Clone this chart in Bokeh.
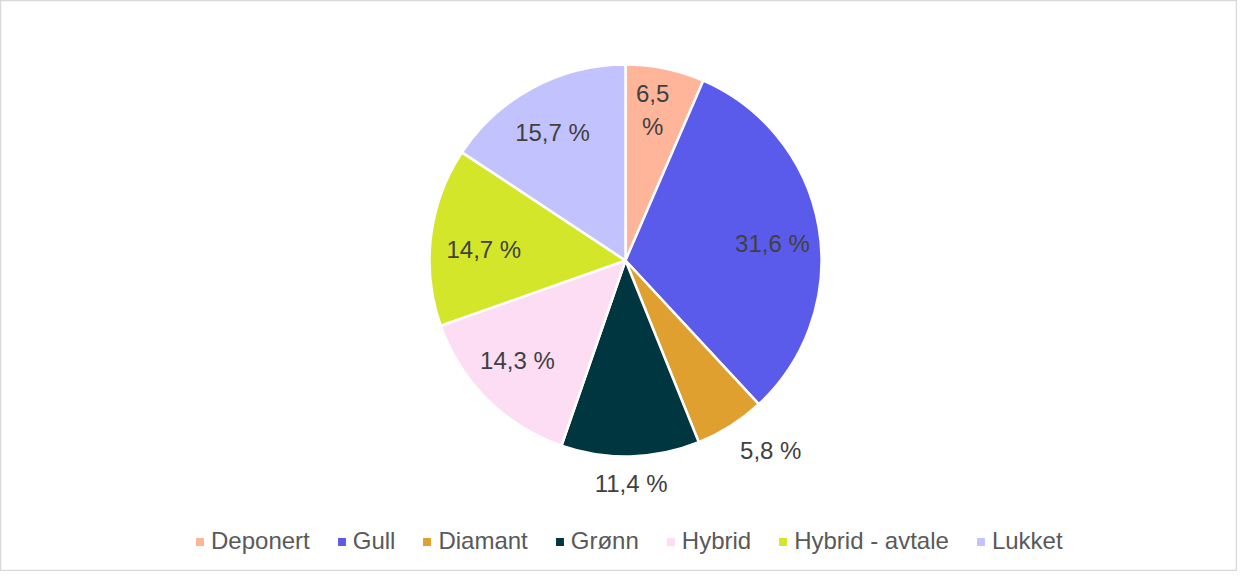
import math
from bokeh.plotting import figure
from bokeh.models import ColumnDataSource, Range1d, Legend, LegendItem
from bokeh.core.properties import value
from bokeh.embed import file_html
from bokeh.resources import INLINE

categories = ["Deponert", "Gull", "Diamant", "Grønn", "Hybrid", "Hybrid - avtale", "Lukket"]
shares = [6.5, 31.6, 5.8, 11.4, 14.3, 14.7, 15.7]
labels = ["6,5\n%", "31,6 %", "5,8 %", "11,4 %", "14,3 %", "14,7 %", "15,7 %"]
colors = ["#FFB59A", "#5B5BEB", "#E0A030", "#003640", "#FDDDF3", "#D4E62A", "#C2C2FF"]

# label placement (fraction of radius, angle offset in degrees)
label_rfrac = [0.78, 0.755, 1.22, 1.14, 0.75, 0.725, 0.75]
label_dang = [-1.5, 3.0, -5.0, 0.0, 2.5, -2.5, -1.5]

W, H = 1237, 571
CX, CY, R = 625, H - 260, 196

total = sum(shares)
starts, ends, lx, ly = [], [], [], []
cum = 0.0
for s, rf, da in zip(shares, label_rfrac, label_dang):
    a0 = cum / total
    a1 = (cum + s) / total
    starts.append(math.pi / 2 - a1 * 2 * math.pi)
    ends.append(math.pi / 2 - a0 * 2 * math.pi)
    mid = (a0 + a1) / 2 * 360 + da  # degrees clockwise from 12 o'clock
    lx.append(CX + rf * R * math.sin(math.radians(mid)))
    ly.append(CY + rf * R * math.cos(math.radians(mid)))
    cum += s

src = ColumnDataSource(dict(cat=categories, start=starts, end=ends, color=colors,
                            lx=lx, ly=ly, label=labels))

p = figure(width=W, height=H, output_backend="svg", toolbar_location=None,
           x_range=Range1d(0, W), y_range=Range1d(0, H), min_border=0)
p.axis.visible = False
p.grid.visible = False
p.outline_line_color = "#D9D9D9"
p.outline_line_width = 1.5
p.background_fill_color = "white"

wr = p.wedge(x=CX, y=CY, radius=R, start_angle="start", end_angle="end",
             fill_color="color", line_color="white", line_width=2.5, source=src)

p.text(x="lx", y="ly", text="label", source=src, text_align="center",
       text_baseline="middle", text_font=value("Liberation Sans"),
       text_font_size="24px", text_color="#404040", text_line_height=1.2)

legend = Legend(items=[LegendItem(label=c, renderers=[wr], index=i)
                       for i, c in enumerate(categories)],
                location=(193, 16), orientation="horizontal",
                glyph_width=13, glyph_height=13, label_standoff=5, spacing=25,
                padding=0, margin=0, border_line_color=None,
                background_fill_alpha=0,
                label_text_font="Liberation Sans", label_text_font_size="24px",
                label_text_color="#595959")
p.add_layout(legend, "center")

open("out.html", "w").write(file_html(p, INLINE))
